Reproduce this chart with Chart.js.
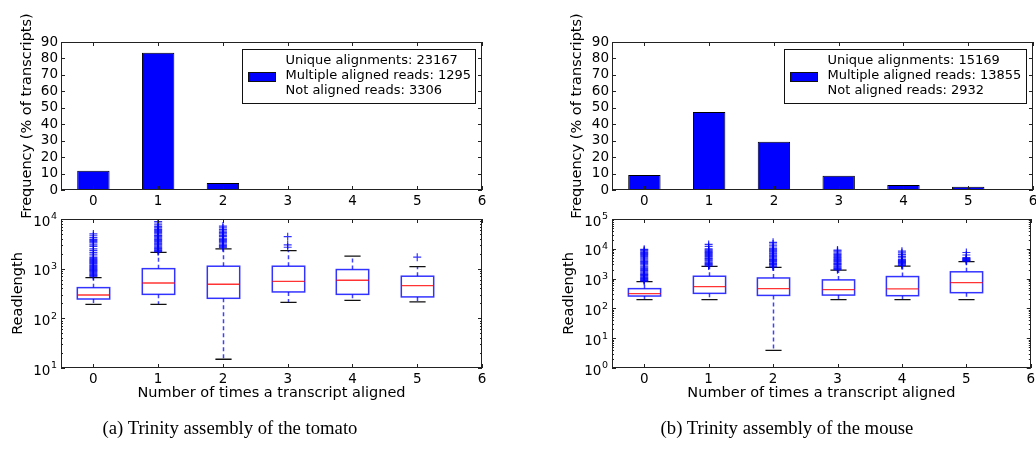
<!DOCTYPE html>
<html>
<head>
<meta charset="utf-8" />
<title>Transcript alignment frequency and read length</title>
<script src="https://cdn.jsdelivr.net/npm/chart.js@4.4.1/dist/chart.umd.min.js"></script>
<style>
    body { margin: 0; background: #fff; width: 1036px; height: 450px; position: relative; overflow: hidden; }
    canvas { position: absolute; }
    .caption { position: absolute; width: 460px; text-align: center; font-family: "Liberation Serif", serif; font-size: 18.7px; color: #000; }
</style>
</head>
<body>

<canvas id="tomatoFreq" width="518" height="232" style="left:0;top:0"></canvas>
<canvas id="tomatoLen" width="518" height="215" style="left:0;top:195px"></canvas>
<canvas id="mouseFreq" width="496" height="232" style="left:540px;top:0"></canvas>
<canvas id="mouseLen" width="496" height="215" style="left:540px;top:195px"></canvas>

<div class="caption" style="left:0;top:417px">(a) Trinity assembly of the tomato</div>
<div class="caption" style="left:557px;top:417px">(b) Trinity assembly of the mouse</div>

<script>
// ---- data ----
const positions = [0, 1, 2, 3, 4, 5];
const xTicks = [0, 1, 2, 3, 4, 5, 6];
const freqTicks = [0, 10, 20, 30, 40, 50, 60, 70, 80, 90];
const legendNames = ['Unique alignments', 'Multiple aligned reads', 'Not aligned reads'];

// tomato
const tomatoFreqValues = [11.7, 83.5, 4.2, 0.5, 0.1, 0.05];
const tomatoCounts = [23167, 1295, 3306];
const tomatoDecades = [10, 100, 1000, 10000];
const tomatoLow = [191, 191, 15, 210, 230, 214];
const tomatoQ1 = [245, 304, 253, 340, 304, 270];
const tomatoMed = [295, 515, 485, 557, 585, 455];
const tomatoQ3 = [415, 1000, 1120, 1120, 960, 705];
const tomatoHigh = [660, 2130, 2500, 2300, 1790, 1100];
const tomatoOutliers = [
    [700, 730, 760, 800, 840, 880, 920, 960, 1000, 1050, 1100, 1150, 1200, 1260, 1320, 1380, 1450, 1520, 1600, 1680, 1800, 1950, 2100, 2300, 2500, 2800, 3000, 3300, 3500, 3700, 3900, 4200, 4600, 5000],
    [2200, 2300, 2400, 2500, 2600, 2700, 2850, 3000, 3150, 3300, 3500, 3700, 3900, 4100, 4300, 4500, 4700, 5000, 5300, 5600, 5900, 6200, 6600, 7000, 7600, 8300, 8900],
    [2650, 2800, 2950, 3100, 3300, 3500, 3700, 3900, 4100, 4400, 4700, 5000, 5300, 5700, 6100, 6600, 7200],
    [2700, 3000, 4400],
    [],
    [1700]
];

// mouse
const mouseFreqValues = [9.1, 47.4, 29.4, 8.7, 3.0, 2.0];
const mouseCounts = [15169, 13855, 2932];
const mouseDecades = [1, 10, 100, 1000, 10000, 100000];
const mouseLow = [196, 196, 3.9, 196, 196, 196];
const mouseQ1 = [260, 320, 273, 280, 267, 337];
const mouseMed = [312, 540, 460, 425, 450, 735];
const mouseQ3 = [460, 1200, 1050, 905, 1170, 1690];
const mouseHigh = [795, 2560, 2370, 1920, 2630, 3700];
const mouseOutliers = [
    [820, 860, 900, 950, 1000, 1060, 1120, 1200, 1280, 1360, 1450, 1550, 1700, 1850, 2000, 2200, 2400, 2600, 2900, 3200, 3500, 3800, 4200, 4600, 5000, 5500, 6000, 6500, 7000, 7600, 8300, 9000, 9600],
    [2650, 2800, 3000, 3200, 3400, 3600, 3900, 4200, 4500, 4800, 5200, 5600, 6000, 6500, 7000, 7500, 8000, 8600, 9200, 10000, 12000, 14000],
    [2450, 2600, 2800, 3000, 3200, 3400, 3700, 4000, 4300, 4600, 5000, 5400, 5800, 6200, 6700, 7200, 7800, 8400, 9000, 9700, 10500, 12500, 14500, 16500],
    [2000, 2150, 2300, 2450, 2600, 2800, 3000, 3200, 3400, 3700, 4000, 4300, 4700, 5100, 5500, 6000, 6500, 7100, 7800, 8500, 9100],
    [2750, 2900, 3100, 3300, 3500, 3700, 3900, 4100, 4400, 5000, 5600, 6400, 7300, 8300],
    [3850, 4000, 4200, 4400, 4600, 4800, 5100, 6200, 7500]
];

// ---- styling ----
const FAMILY = 'DejaVu Sans';
const TICK_FONT = { family: FAMILY, size: 13.5 };
const TITLE_FONT = { family: FAMILY, size: 14.5 };
const LEGEND_FONT = '13px "DejaVu Sans"';
const BOX_WIDTH = 0.5;

// matplotlib-ish frame, inward ticks, boxes, log labels and legend, all placed through the scales
const mplPlugin = {
    id: 'mpl',
    beforeDatasetsDraw(chart, args, opts) {
        const b = opts.box;
        if (!b) return;
        const { ctx, scales: { x, y } } = chart;
        ctx.save();
        positions.forEach((p, i) => {
            const cx = Math.round(x.getPixelForValue(p)) + 0.5;
            const hw = x.getPixelForValue(p + BOX_WIDTH / 2) - x.getPixelForValue(p);
            const yLow = y.getPixelForValue(b.low[i]), yQ1 = y.getPixelForValue(b.q1[i]);
            const yMed = y.getPixelForValue(b.med[i]), yQ3 = y.getPixelForValue(b.q3[i]);
            const yHigh = y.getPixelForValue(b.high[i]);
            // whiskers
            ctx.strokeStyle = 'rgba(0,0,255,0.75)';
            ctx.lineWidth = 1.5;
            ctx.setLineDash([4, 3]);
            ctx.beginPath();
            ctx.moveTo(cx, yQ1); ctx.lineTo(cx, yLow);
            ctx.moveTo(cx, yQ3); ctx.lineTo(cx, yHigh);
            ctx.stroke();
            ctx.setLineDash([]);
            // caps
            ctx.strokeStyle = '#111';
            ctx.lineWidth = 1.3;
            ctx.beginPath();
            ctx.moveTo(cx - hw / 2, yLow); ctx.lineTo(cx + hw / 2, yLow);
            ctx.moveTo(cx - hw / 2, yHigh); ctx.lineTo(cx + hw / 2, yHigh);
            ctx.stroke();
            // box
            ctx.fillStyle = '#fff';
            ctx.fillRect(cx - hw, yQ3, 2 * hw, yQ1 - yQ3);
            ctx.strokeStyle = 'rgba(0,0,255,0.8)';
            ctx.lineWidth = 1.5;
            ctx.strokeRect(cx - hw, yQ3, 2 * hw, yQ1 - yQ3);
            // median
            ctx.strokeStyle = 'rgba(255,0,0,0.8)';
            ctx.lineWidth = 1.3;
            ctx.beginPath();
            ctx.moveTo(cx - hw, yMed); ctx.lineTo(cx + hw, yMed);
            ctx.stroke();
        });
        ctx.restore();
    },
    afterDraw(chart, args, opts) {
        const { ctx, chartArea: a, scales: { x, y } } = chart;
        ctx.save();
        ctx.strokeStyle = '#222';
        ctx.lineWidth = 1;
        ctx.beginPath();
        x.ticks.forEach(t => {
            const px = Math.round(x.getPixelForValue(t.value)) + 0.5;
            ctx.moveTo(px, a.bottom); ctx.lineTo(px, a.bottom - 4);
            ctx.moveTo(px, a.top); ctx.lineTo(px, a.top + 4);
        });
        y.ticks.forEach(t => {
            const py = Math.round(y.getPixelForValue(t.value)) + 0.5;
            ctx.moveTo(a.left, py); ctx.lineTo(a.left + 4, py);
            ctx.moveTo(a.right, py); ctx.lineTo(a.right - 4, py);
        });
        if (opts.decades) {
            opts.decades.slice(0, -1).forEach(d => {
                for (let k = 2; k < 10; k++) {
                    const py = Math.round(y.getPixelForValue(d * k)) + 0.5;
                    ctx.moveTo(a.left, py); ctx.lineTo(a.left + 2, py);
                    ctx.moveTo(a.right, py); ctx.lineTo(a.right - 2, py);
                }
            });
        }
        ctx.stroke();
        ctx.strokeRect(Math.round(a.left) + 0.5, Math.round(a.top) + 0.5, Math.round(a.right - a.left) - 1, Math.round(a.bottom - a.top) - 1);

        // log tick labels as 10 with a raised exponent
        if (opts.decades) {
            ctx.fillStyle = '#000';
            ctx.textBaseline = 'middle';
            ctx.textAlign = 'right';
            opts.decades.forEach(d => {
                const py = y.getPixelForValue(d);
                const exp = String(Math.round(Math.log10(d)));
                ctx.font = '9.5px "DejaVu Sans"';
                const ew = ctx.measureText(exp).width;
                ctx.fillText(exp, a.left - 4, py - 2);
                ctx.font = TICK_FONT.size + 'px "DejaVu Sans"';
                ctx.fillText('10', a.left - 4 - ew - 0.5, py + 3);
            });
        }

        // legend
        const lg = opts.legend;
        if (lg) {
            ctx.font = LEGEND_FONT;
            const lines = lg.names.map((n, i) => n + ': ' + lg.counts[i]);
            const tw = Math.max(...lines.map(l => ctx.measureText(l).width));
            const w = Math.round(43 + tw + 5), h = 54;
            const left = Math.round(a.right - 7 - w) + 0.5, top = Math.round(a.top + 7) + 0.5;
            ctx.fillStyle = '#fff';
            ctx.fillRect(left, top, w, h);
            ctx.strokeStyle = '#111';
            ctx.strokeRect(left, top, w, h);
            ctx.fillStyle = '#0000ff';
            ctx.fillRect(left + 6, top + 23, 27, 9);
            ctx.strokeRect(left + 6, top + 23, 27, 9);
            ctx.fillStyle = '#000';
            ctx.textBaseline = 'middle';
            ctx.textAlign = 'left';
            lines.forEach((l, i) => ctx.fillText(l, left + 43, top + 11 + i * 15));
        }
        ctx.restore();
    }
};

function xScale(title) {
    return {
        type: 'linear', min: -0.5, max: 6, offset: false,
        afterBuildTicks: s => { s.ticks = xTicks.map(v => ({ value: v })); },
        ticks: { font: TICK_FONT, color: '#000', padding: 3, autoSkip: false, maxRotation: 0, callback: v => String(v) },
        grid: { display: false, drawTicks: false, offset: false },
        border: { display: false },
        title: title ? { display: true, text: title, font: TITLE_FONT, color: '#000', padding: { top: 0, bottom: 8 } } : { display: false },
        afterFit: s => { s.height = 42; s.paddingLeft = 0; s.paddingRight = 0; }
    };
}

function freqChart(id, values, counts, yWidth, titlePad, rightPad) {
    new Chart(document.getElementById(id), {
        type: 'bar',
        data: {
            datasets: [{
                data: values.map((v, i) => ({ x: positions[i], y: v })),
                backgroundColor: '#0000ff',
                borderColor: '#000',
                borderWidth: 1,
                borderSkipped: false,
                barPercentage: BOX_WIDTH,
                categoryPercentage: 1
            }]
        },
        options: {
            responsive: false, animation: false, devicePixelRatio: 1,
            layout: { padding: { left: 0, top: 42, right: rightPad, bottom: 0 } },
            scales: {
                x: xScale(null),
                y: {
                    min: 0, max: 90,
                    afterBuildTicks: s => { s.ticks = freqTicks.map(v => ({ value: v })); },
                    ticks: { font: TICK_FONT, color: '#000', padding: 3, autoSkip: false },
                    grid: { display: false, drawTicks: false },
                    border: { display: false },
                    title: { display: true, text: 'Frequency (% of transcripts)', font: TITLE_FONT, color: '#000', padding: { top: titlePad, bottom: 0 } },
                    afterFit: s => { s.width = yWidth; s.paddingTop = 0; s.paddingBottom = 0; }
                }
            },
            plugins: {
                legend: { display: false },
                tooltip: { enabled: false },
                mpl: { legend: { names: legendNames, counts: counts } }
            }
        },
        plugins: [mplPlugin]
    });
}

function lengthChart(id, decades, low, q1, med, q3, high, outliers, yWidth, titlePad, rightPad) {
    new Chart(document.getElementById(id), {
        type: 'scatter',
        data: {
            datasets: [{
                data: outliers.flatMap((vals, i) => vals.map(v => ({ x: positions[i], y: v }))),
                pointStyle: 'cross',
                pointRadius: 4,
                borderWidth: 1.2,
                borderColor: 'rgba(0,0,255,0.8)',
                backgroundColor: 'rgba(0,0,255,0.8)'
            }]
        },
        options: {
            responsive: false, animation: false, devicePixelRatio: 1,
            layout: { padding: { left: 0, top: 24, right: rightPad, bottom: 0 } },
            scales: {
                x: xScale('Number of times a transcript aligned'),
                y: {
                    type: 'logarithmic', min: decades[0], max: decades[decades.length - 1],
                    afterBuildTicks: s => { s.ticks = decades.map(v => ({ value: v })); },
                    ticks: { display: false },
                    grid: { display: false, drawTicks: false },
                    border: { display: false },
                    title: { display: true, text: 'Readlength', font: TITLE_FONT, color: '#000', padding: { top: titlePad, bottom: 0 } },
                    afterFit: s => { s.width = yWidth; s.paddingTop = 0; s.paddingBottom = 0; }
                }
            },
            plugins: {
                legend: { display: false },
                tooltip: { enabled: false },
                mpl: { box: { low, q1, med, q3, high }, decades: decades }
            }
        },
        plugins: [mplPlugin]
    });
}

freqChart('tomatoFreq', tomatoFreqValues, tomatoCounts, 61, 18.3, 36);
lengthChart('tomatoLen', tomatoDecades, tomatoLow, tomatoQ1, tomatoMed, tomatoQ3, tomatoHigh, tomatoOutliers, 61, 9.6, 36);
freqChart('mouseFreq', mouseFreqValues, mouseCounts, 72, 28.8, 3);
lengthChart('mouseLen', mouseDecades, mouseLow, mouseQ1, mouseMed, mouseQ3, mouseHigh, mouseOutliers, 72, 20.3, 3);
</script>

</body>
</html>
